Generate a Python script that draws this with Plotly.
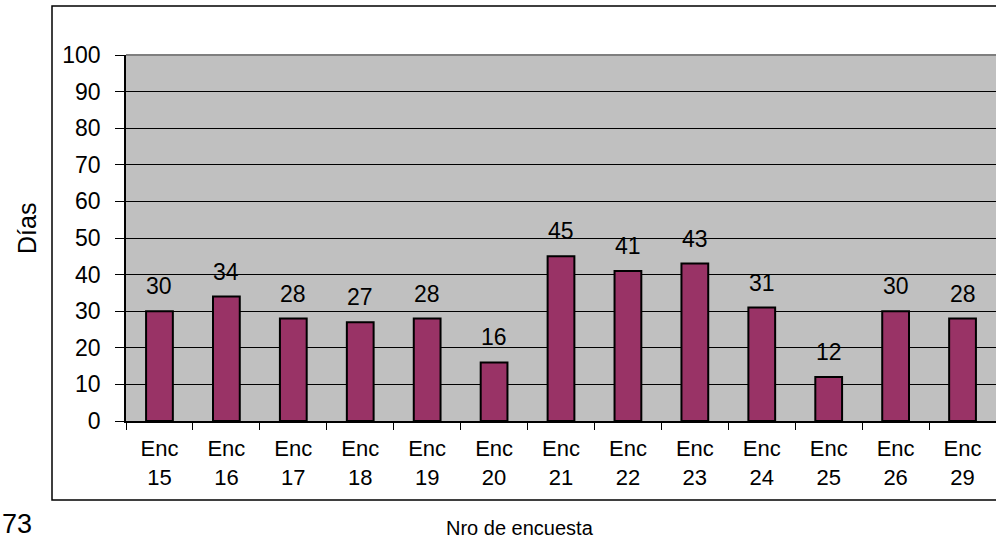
import plotly.graph_objects as go

# Survey numbers and the days recorded for each one
encuestas = ["15", "16", "17", "18", "19", "20", "21", "22", "23", "24", "25", "26", "29"]
dias = [30, 34, 28, 27, 28, 16, 45, 41, 43, 31, 12, 30, 28]
y_ticks = [0, 10, 20, 30, 40, 50, 60, 70, 80, 90, 100]

categorias = ["Enc<br>" + e for e in encuestas]
FONT = "Liberation Sans, Arial, sans-serif"

W, H = 996, 540
L, R, T, B = 126, 0, 55, 119
plot_w = W - L - R
plot_h = H - T - B


def px_to_paper_x(px):
    return (px - L) / plot_w


def px_to_paper_y(py):
    return (H - B - py) / plot_h


fig = go.Figure(
    go.Bar(
        x=categorias,
        y=dias,
        marker=dict(color="#993366", line=dict(color="black", width=2)),
        hoverinfo="x+y",
    )
)

# Value labels above each bar
for c, v in zip(categorias, dias):
    fig.add_annotation(
        x=c, y=v, text=str(v), showarrow=False,
        yanchor="bottom", yshift=10,
        font=dict(family=FONT, size=23, color="black"),
    )

# Outer chart frame
fig.add_shape(
    type="rect", xref="paper", yref="paper",
    x0=px_to_paper_x(52), x1=px_to_paper_x(1010),
    y0=px_to_paper_y(500), y1=px_to_paper_y(6),
    line=dict(color="black", width=1.5), fillcolor="rgba(0,0,0,0)",
    layer="below",
)

# Grey top edge of the plotting area
fig.add_shape(
    type="line", xref="paper", yref="paper",
    x0=0, x1=1, y0=1, y1=1,
    line=dict(color="#7f7f7f", width=2), layer="above",
)

# Axis titles and page number
fig.add_annotation(
    xref="paper", yref="paper", x=px_to_paper_x(27), y=px_to_paper_y(229),
    xanchor="center", yanchor="middle",
    text="Días", textangle=-90, showarrow=False,
    font=dict(family=FONT, size=25, color="black"),
)
fig.add_annotation(
    xref="paper", yref="paper", x=px_to_paper_x(520), y=px_to_paper_y(528),
    text="Nro de encuesta", showarrow=False, xanchor="center", yanchor="middle",
    font=dict(family=FONT, size=20, color="black"),
)
fig.add_annotation(
    xref="paper", yref="paper", x=px_to_paper_x(0), y=px_to_paper_y(541),
    text="73", showarrow=False, xanchor="left", yanchor="bottom",
    font=dict(family=FONT, size=27, color="black"),
)

fig.update_layout(
    width=W, height=H,
    margin=dict(l=L, r=R, t=T, b=B, pad=0),
    paper_bgcolor="white",
    plot_bgcolor="#c0c0c0",
    bargap=0.6,
    showlegend=False,
    font=dict(family=FONT, color="black"),
    xaxis=dict(
        type="category",
        range=[-0.5, 12.5],
        tickson="boundaries",
        ticks="outside", ticklen=7, tickcolor="black", tickwidth=1,
        showgrid=False,
        showline=True, linecolor="black", linewidth=1.5,
        tickfont=dict(family=FONT, size=22),
        ticklabelstandoff=7,
        fixedrange=True,
    ),
    yaxis=dict(
        range=[0, 100],
        tickvals=y_ticks,
        ticks="outside", ticklen=9, tickcolor="black", tickwidth=1,
        showgrid=True, gridcolor="black", gridwidth=1,
        showline=True, linecolor="black", linewidth=1.5,
        zeroline=False,
        tickfont=dict(family=FONT, size=23),
        ticklabelstandoff=10,
        fixedrange=True,
    ),
)

fig.write_html("out.html")
